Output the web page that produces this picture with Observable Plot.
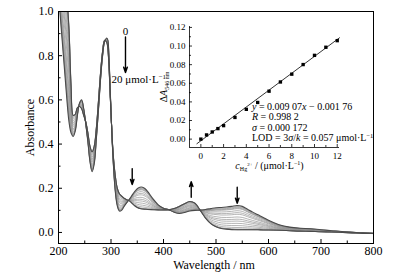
<!DOCTYPE html>
<html><head><meta charset="utf-8">
<script src="https://cdn.jsdelivr.net/npm/d3@7"></script>
<script src="https://cdn.jsdelivr.net/npm/@observablehq/plot@0.6"></script>
<style>
html,body{margin:0;padding:0;background:#fff;}
#wrap{position:relative;width:400px;height:276px;overflow:hidden;background:#fff;}
#inset{position:absolute;left:150px;top:10px;width:200px;height:170px;}
</style></head><body>
<div id="wrap"><div id="main"></div><div id="inset"></div></div>
<script>
// ---------- Main chart data ----------
const wavelengths = [200,204,208,212,216,220,224,228,232,236,240,244,248,252,256,260,264,268,272,276,280,284,288,292,294,296,298,300,304,308,312,316,320,325,330,335,340,345,350,355,360,365,370,380,390,400,410,420,430,440,450,460,470,480,490,500,510,520,530,540,550,560,570,580,590,600,620,640,660,680,700,720,740,760,780,800];
// spectrum with no Hg2+ (0 µmol/L)
const absInitial = [1.08,0.96,0.84,0.72,0.60,0.50,0.45,0.435,0.46,0.53,0.585,0.60,0.56,0.49,0.41,0.32,0.275,0.31,0.42,0.55,0.69,0.80,0.865,0.88,0.87,0.80,0.68,0.55,0.33,0.19,0.12,0.097,0.10,0.118,0.135,0.150,0.168,0.185,0.198,0.205,0.205,0.198,0.185,0.152,0.125,0.110,0.103,0.092,0.086,0.090,0.097,0.100,0.101,0.104,0.108,0.112,0.113,0.115,0.118,0.122,0.118,0.105,0.092,0.080,0.068,0.055,0.035,0.024,0.019,0.017,0.012,0.008,0.004,0.001,-0.002,-0.004];
// spectrum at 20 µmol/L Hg2+
const absFinal = [1.30,1.25,1.20,1.14,1.06,0.92,0.66,0.53,0.535,0.565,0.57,0.56,0.53,0.50,0.45,0.39,0.365,0.39,0.47,0.59,0.72,0.82,0.87,0.86,0.83,0.76,0.65,0.54,0.36,0.26,0.20,0.175,0.165,0.155,0.148,0.143,0.132,0.121,0.113,0.108,0.106,0.105,0.104,0.103,0.102,0.102,0.103,0.108,0.118,0.130,0.140,0.132,0.100,0.065,0.040,0.026,0.018,0.015,0.013,0.012,0.012,0.012,0.012,0.012,0.011,0.011,0.010,0.008,0.006,0.005,0.003,0.002,0.000,-0.002,-0.004,-0.005];
// titration steps and the drop of absorbance at 546 nm read for each curve
const concentrations = [0,0.5,1,1.5,2,3,4,5,6,7,8,9,10,11,12,14,16,18,20];
const fanDeltaA546 = [0,0.0045,0.0077,0.0113,0.0145,0.0233,0.032,0.0394,0.0515,0.0614,0.0698,0.0801,0.090,0.0987,0.1058,0.1072,0.1080,0.1086,0.1090];

const xMajorTicks = [200,300,400,500,600,700,800];
const xMinorTicks = [250,350,450,550,650,750];
const yMajorTicks = [0,0.2,0.4,0.6,0.8,1.0];
const yMinorTicks = [0.1,0.3,0.5,0.7,0.9];
const xDomain = [200, 800];
const yDomain = [-0.05, 1.0];

// annotations (data units)
const changeArrows = [
  {wl: 327.6, from: 0.885, to: 0.724},
  {wl: 340.4, from: 0.289, to: 0.217},
  {wl: 452.8, from: 0.159, to: 0.230},
  {wl: 540.4, from: 0.2045, to: 0.132}
];
const arrowLabels = [
  {wl: 327.6, a: 0.909, text: "0"},
  {wl: 353, a: 0.691, text: '20 μmol·L<tspan dy="-4" font-size="7">−1</tspan>'}
];

// ---------- Inset data ----------
const insetConc = [0,0.5,1,1.5,2,3,4,5,6,7,8,9,10,11,12];
const insetDeltaA = [0,0.0045,0.0077,0.0113,0.0145,0.0233,0.032,0.0394,0.0515,0.0614,0.0698,0.0801,0.090,0.0987,0.1058];
const fitSlope = 0.00907, fitIntercept = -0.00176;
const fitRange = [-0.35, 12.2];
const insetXDomain = [-1, 12.2];
const insetYDomain = [-0.009, 0.121];
const insetXTicks = [0,2,4,6,8,10,12];
const insetXMinor = [1,3,5,7,9,11];
const insetYTicks = [0,0.02,0.04,0.06,0.08,0.10,0.12];
const insetYMinor = [0.01,0.03,0.05,0.07,0.09,0.11];
const insetNotes = [
  {x: 4.5, y: 0.0347, text: '<tspan font-style="italic">y</tspan> = 0.009 07<tspan font-style="italic">x</tspan> − 0.001 76'},
  {x: 4.5, y: 0.0235, text: '<tspan font-style="italic">R</tspan> = 0.998 2'},
  {x: 4.5, y: 0.0123, text: '<tspan font-style="italic">σ</tspan> = 0.000 172'},
  {x: 4.5, y: 0.0011, text: 'LOD = 3<tspan font-style="italic">σ</tspan>/<tspan font-style="italic">k</tspan> = 0.057 μmol·L<tspan dy="-3.5" font-size="6.5">−1</tspan>'}
];
const insetYTitle = [{x: -3.3, y: 0.056, text: 'Δ<tspan font-style="italic">A</tspan><tspan dy="2.5" font-size="6">546 nm</tspan>'}];

// ---------- build series ----------
const spectra = [];
const total = fanDeltaA546[fanDeltaA546.length - 1];
concentrations.forEach((c, k) => {
  const w = fanDeltaA546[k] / total;
  wavelengths.forEach((wl, i) => {
    spectra.push({k, c, wl, a: absInitial[i] + w * (absFinal[i] - absInitial[i])});
  });
});
const lastK = concentrations.length - 1;
const inner = spectra.filter(d => d.k !== 0 && d.k !== lastK);
const outer = spectra.filter(d => d.k === 0 || d.k === lastK);

const serif = "'Liberation Serif','Times New Roman',serif";
const blank = () => "";

function richText(svg) {
  d3.select(svg).selectAll("text").each(function() {
    const t = this.textContent;
    if (t.includes("<tspan")) this.innerHTML = t;
  });
}

const main = Plot.plot({
  width: 400, height: 276,
  marginLeft: 58, marginRight: 27, marginTop: 11, marginBottom: 33,
  x: {domain: xDomain},
  y: {domain: yDomain},
  style: {fontFamily: serif, fontSize: "12px", color: "black", background: "white"},
  marks: [
    Plot.line(inner, {x: "wl", y: "a", z: "k", stroke: "#8c8c8c", strokeWidth: 0.65, curve: "catmull-rom", clip: true}),
    Plot.line(outer, {x: "wl", y: "a", z: "k", stroke: "#4a4a4a", strokeWidth: 1.1, curve: "catmull-rom", clip: true}),
    Plot.frame({stroke: "black", strokeWidth: 1}),
    Plot.axisX({ticks: xMajorTicks, tickSize: 0, tickPadding: 3, tickFormat: d3.format("d"), label: null}),
    Plot.axisX({ticks: xMajorTicks, tickSize: 4, dy: -4, tickFormat: blank, label: null}),
    Plot.axisX({ticks: xMinorTicks, tickSize: 2.5, dy: -2.5, tickFormat: blank, label: null}),
    Plot.axisY({ticks: yMajorTicks, tickSize: 0, tickPadding: 5, tickFormat: d3.format(".1f"), label: null}),
    Plot.axisY({ticks: yMajorTicks, tickSize: 4, dx: 4, tickFormat: blank, label: null}),
    Plot.axisY({ticks: yMinorTicks, tickSize: 2.5, dx: 2.5, tickFormat: blank, label: null}),
    Plot.text(["Absorbance"], {text: d => d, frameAnchor: "left", rotate: -90, dx: -28, textAnchor: "middle", lineAnchor: "middle", fontSize: 12}),
    Plot.text(["Wavelength / nm"], {text: d => d, frameAnchor: "bottom", dy: 22, dx: -2, textAnchor: "middle", lineAnchor: "middle", fontSize: 12}),
    Plot.arrow(changeArrows, {x1: "wl", x2: "wl", y1: "from", y2: "to", stroke: "black", strokeWidth: 1.4, headLength: 6, headAngle: 38}),
    Plot.text(arrowLabels, {x: "wl", y: "a", text: "text", fontSize: 11, textAnchor: "middle"})
  ]
});
document.getElementById("main").appendChild(main);
richText(main);

const fitLine = fitRange.map(x => ({x, y: fitSlope * x + fitIntercept}));
const insetPts = insetConc.map((c, i) => ({c, d: insetDeltaA[i]}));

const inset = Plot.plot({
  width: 200, height: 170,
  marginLeft: 39, marginRight: 11, marginTop: 16, marginBottom: 33,
  x: {domain: insetXDomain},
  y: {domain: insetYDomain},
  style: {fontFamily: serif, fontSize: "9px", color: "black", background: "none", overflow: "visible"},
  marks: [
    Plot.ruleX([insetXDomain[0]], {stroke: "black", strokeWidth: 0.8}),
    Plot.ruleY([insetYDomain[0]], {stroke: "black", strokeWidth: 0.8}),
    Plot.axisX({ticks: insetXTicks, tickSize: 0, tickPadding: 5, tickFormat: d3.format("d"), label: null}),
    Plot.axisX({ticks: insetXTicks, tickSize: 3, dy: -3, tickFormat: blank, label: null, strokeWidth: 0.8}),
    Plot.axisX({ticks: insetXMinor, tickSize: 2, dy: -2, tickFormat: blank, label: null, strokeWidth: 0.8}),
    Plot.axisY({ticks: insetYTicks, tickSize: 0, tickPadding: 4, tickFormat: d3.format(".2f"), label: null}),
    Plot.axisY({ticks: insetYTicks, tickSize: 3, dx: 3, tickFormat: blank, label: null, strokeWidth: 0.8}),
    Plot.axisY({ticks: insetYMinor, tickSize: 2, dx: 2, tickFormat: blank, label: null, strokeWidth: 0.8}),
    Plot.line(fitLine, {x: "x", y: "y", stroke: "black", strokeWidth: 0.8}),
    Plot.dot(insetPts, {x: "c", y: "d", symbol: "square", r: 1.9, fill: "black", stroke: "none"}),
    Plot.text(insetNotes, {x: "x", y: "y", text: "text", textAnchor: "start", fontSize: 10}),
    Plot.text(insetYTitle, {x: "x", y: "y", text: "text", rotate: -90, textAnchor: "middle", lineAnchor: "middle", fontSize: 10}),
    Plot.text(['<tspan font-style="italic">c</tspan><tspan dy="2.5" font-size="6">Hg</tspan><tspan dy="-5" font-size="5">2+</tspan><tspan dy="2.5"> / (μmol·L</tspan><tspan dy="-3.5" font-size="6">−1</tspan><tspan dy="3.5">)</tspan>'], {text: d => d, frameAnchor: "bottom", dy: 18, dx: 5, textAnchor: "middle", lineAnchor: "middle", fontSize: 10})
  ]
});
document.getElementById("inset").appendChild(inset);
richText(inset);
</script>
</body></html>
